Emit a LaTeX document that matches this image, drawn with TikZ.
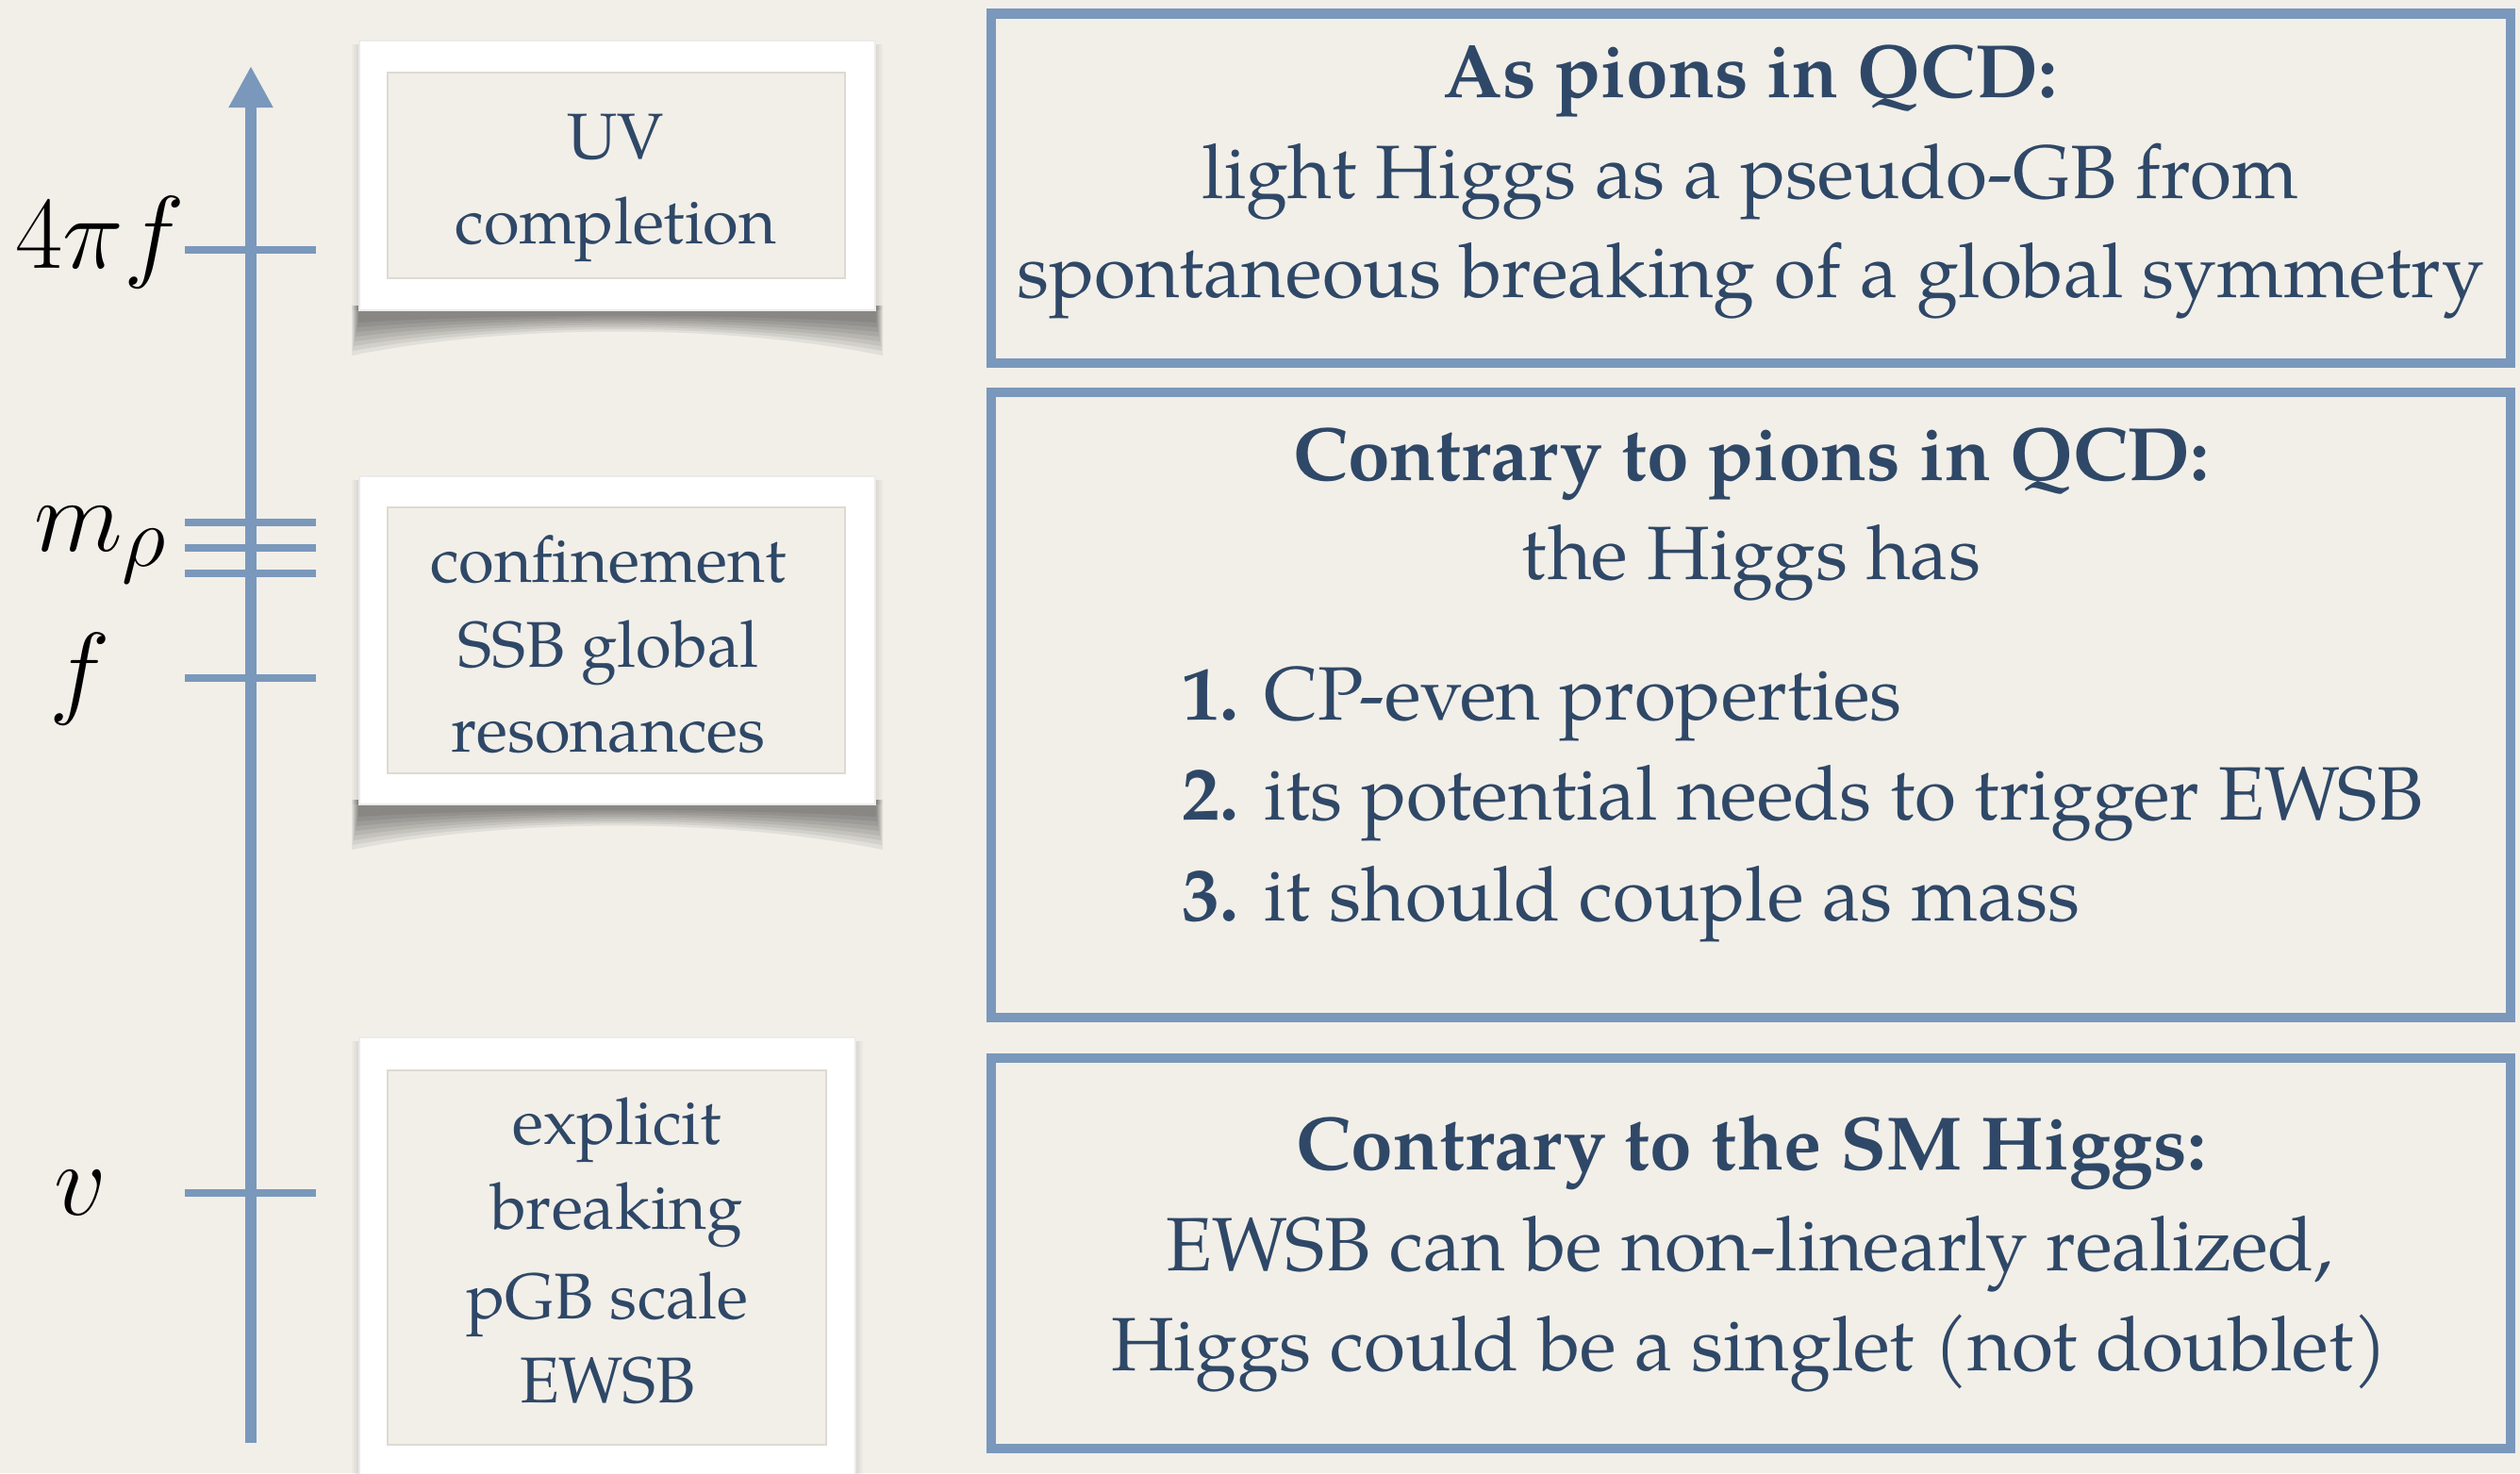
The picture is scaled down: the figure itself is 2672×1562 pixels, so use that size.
\documentclass[tikz,border=0pt]{standalone}
\usepackage{graphicx}
\usepackage[no-math]{fontspec}
\setmainfont{texgyrepagella}[Extension=.otf, UprightFont=*-regular, BoldFont=*-bold, ItalicFont=*-italic, BoldItalicFont=*-bolditalic]
\usetikzlibrary{arrows.meta}
\definecolor{paper}{RGB}{242,239,233}
\definecolor{axisblue}{RGB}{122,152,187}
\definecolor{ink}{RGB}{47,72,103}
\definecolor{innerline}{RGB}{222,218,210}
\newcommand\curlshadow[3]{%
  \foreach \k in {0,...,7} {
    \fill[black, opacity=0.065] (#1-8+\k,#3-5) -- (#2+8-\k,#3-5) -- (#2+8-\k,#3+48-5*\k)
      .. controls (#2-160,#3+14-1.5*\k) and (#1+160,#3+14-1.5*\k) .. (#1-8+\k,#3+48-5*\k) -- cycle;
  }}
\newcommand\sideshadow[4]{%
  \foreach \k in {1,...,4} {
    \fill[black, opacity=0.025] (#1-2*\k,#2+4) rectangle (#3+2*\k,#4);
  }}
\newcommand\biglabel[1]{\scalebox{1.25}{$#1$}}
\begin{document}
\begin{tikzpicture}[x=0.01cm,y=-0.01cm,
  axisline/.style={draw=axisblue, line width=0.11cm},
  tickline/.style={draw=axisblue, line width=0.075cm},
  frameouter/.style={fill=white, draw=black!8, line width=0.4pt},
  frameinner/.style={fill=paper, draw=innerline, line width=0.7pt},
  bluebox/.style={draw=axisblue, line width=0.105cm},
  lefttext/.style={text=ink, font=\fontsize{19.5}{24}\selectfont, inner sep=0pt, anchor=base},
  righttext/.style={text=ink, font=\fontsize{22.8}{28}\selectfont, inner sep=0pt, anchor=base},
  righthead/.style={text=ink, font=\fontsize{22.8}{28}\selectfont\bfseries, inner sep=0pt, anchor=base},
  itemtext/.style={text=ink, font=\fontsize{22.8}{28}\selectfont, inner sep=0pt, anchor=base west},
  scalelabel/.style={font=\fontsize{24.88}{30}\selectfont, inner sep=0pt}]

% background and page size
\fill[paper] (0,0) rectangle (2672,1562);
\useasboundingbox (0,0) rectangle (2672,1562);

% ---- scale axis ----
\coordinate (axbot) at (266,1530);
\coordinate (axtop) at (266,70);
\draw[axisline, -{Triangle[width=0.44cm,length=0.44cm]}] (axbot) -- (axtop);

\foreach \n/\yy in {a/265, b/554, c/581, d/608, e/719, g/1265} {
  \coordinate (tick\n L) at (196,\yy);
  \coordinate (tick\n R) at (335,\yy);
  \draw[tickline] (tick\n L) -- (tick\n R);
}

\node[scalelabel] (l4pif) at (106,257) {\biglabel{4\pi f}};
\node[scalelabel] (lmrho) at (107,578) {\biglabel{m_\rho}};
\node[scalelabel] (lf) at (85,720) {\biglabel{f}};
\node[scalelabel] (lv) at (85,1265) {\biglabel{v}};

% ---- picture frames ----
\curlshadow{381}{928}{329}
\sideshadow{381}{43}{928}{329}
\draw[frameouter] (381,43) rectangle (928,329);
\draw[frameinner] (411,77) rectangle (896,295);
\node[lefttext] (uv1) at (653,168) {UV};
\node[lefttext] (uv2) at (653,258) {completion};

\curlshadow{381}{928}{853}
\sideshadow{381}{505}{928}{853}
\draw[frameouter] (381,505) rectangle (928,853);
\draw[frameinner] (411,538) rectangle (896,820);
\node[lefttext] (cf1) at (645,617) {confinement};
\node[lefttext] (cf2) at (645,707) {SSB global};
\node[lefttext] (cf3) at (645,797) {resonances};

\sideshadow{381}{1100}{907}{1600}
\draw[frameouter] (381,1100) rectangle (907,1600);
\draw[frameinner] (411,1135) rectangle (876,1532);
\node[lefttext] (ex1) at (654,1213) {explicit};
\node[lefttext] (ex2) at (654,1303) {breaking};
\node[lefttext] (ex3) at (644,1398) {pGB scale};
\node[lefttext] (ex4) at (644,1487) {EWSB};

% ---- right boxes ----
\draw[bluebox] (1051,14.5) rectangle (2662,385);
\node[righthead] (h1) at (1856,103) {As pions in QCD:};
\node[righttext] (b1a) at (1856,210) {light Higgs as a pseudo-GB from};
\node[righttext] (b1b) at (1856,315) {spontaneous breaking of a global symmetry};

\draw[bluebox] (1051,416) rectangle (2662,1079);
\node[righthead] (h2) at (1857,509) {Contrary to pions in QCD:};
\node[righttext] (b2a) at (1857,614) {the Higgs has};
\node[itemtext] (i1) at (1253,763) {\textbf{1.} CP-even properties};
\node[itemtext] (i2) at (1253,869) {\textbf{2.} its potential needs to trigger EWSB};
\node[itemtext] (i3) at (1253,976) {\textbf{3.} it should couple as mass};

\draw[bluebox] (1051,1122) rectangle (2662,1536);
\node[righthead] (h3) at (1857,1240) {Contrary to the SM Higgs:};
\node[righttext] (b3a) at (1855,1347) {EWSB can be non-linearly realized,};
\node[righttext] (b3b) at (1855,1453) {Higgs could be a singlet (not doublet)};
\end{tikzpicture}
\end{document}
